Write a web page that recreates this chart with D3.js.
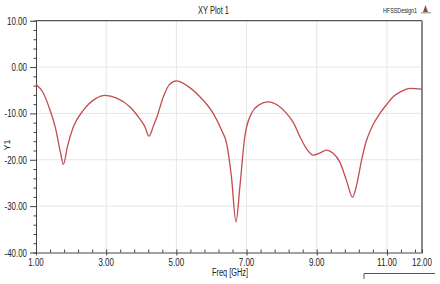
<!DOCTYPE html>
<html>
<head>
<meta charset="utf-8">
<script src="https://cdn.jsdelivr.net/npm/d3@7"></script>
<style>
  body { margin: 0; background: #fff; }
  svg text { font-family: "Liberation Sans", Arial, sans-serif; fill: #222; }
</style>
</head>
<body>
<div class="chartContainer"></div>
<script>
// S-parameter curve
var freq = [1.0, 1.2, 1.4, 1.55, 1.7, 1.78, 1.9, 2.06, 2.35, 2.7, 2.97, 3.3, 3.68, 3.96, 4.1, 4.22,
            4.35, 4.44, 4.63, 4.8, 5.0, 5.3, 5.67, 6.05, 6.3, 6.43, 6.57, 6.70, 6.81, 6.95, 7.14, 7.35,
            7.62, 7.9, 8.14, 8.35, 8.52, 8.7, 8.9, 9.1, 9.28, 9.45, 9.66, 9.85, 10.02, 10.15,
            10.28, 10.42, 10.6, 10.8, 11.0, 11.18, 11.4, 11.66, 12.0];
var db = [-3.7, -5.5, -9.3, -13, -18.5, -21, -17, -13, -9.3, -6.8, -6.1, -6.7, -8.6, -11.2, -12.8, -14.9,
          -12.6, -10.9, -6.4, -3.8, -3.0, -4, -6.4, -10, -13.8, -16.4, -23.7, -33.4, -25.8, -15, -10, -8.2,
          -7.5, -8.3, -10, -12.2, -15, -17.5, -19, -18.5, -17.9, -18.5, -20.5, -24.5, -28.1, -25,
          -20, -15.8, -12.5, -10, -8, -6.4, -5.3, -4.6, -4.75];
var xTicks = [1, 3, 5, 7, 9, 11, 12];
var yTicks = [10, 0, -10, -20, -30, -40];
var gridX = [3, 5, 7, 9, 11];
var gridY = [0, -10, -20, -30];

var width = 440, height = 284;
var plotL = 36, plotR = 422, plotT = 20.7, plotB = 252.5;

var svg = d3.select('.chartContainer').append('svg')
    .attr('width', width).attr('height', height);

var x = d3.scaleLinear().domain([1, 12]).range([plotL, plotR]);
var y = d3.scaleLinear().domain([-40, 10]).range([plotB, plotT]);

// narrow, tall numerals like the original
function labelWidth(s) {
    var w = 0;
    for (var c of s) w += (c === '.') ? 2 : (c === '-') ? 2.5 : 4.5;
    return w;
}

// grid
svg.selectAll('.gx').data(gridX).enter().append('line')
    .attr('x1', d => x(d)).attr('x2', d => x(d))
    .attr('y1', plotT).attr('y2', plotB)
    .attr('stroke', '#e6e6e6').attr('stroke-width', 1);
svg.selectAll('.gy').data(gridY).enter().append('line')
    .attr('x1', plotL).attr('x2', plotR)
    .attr('y1', d => y(d)).attr('y2', d => y(d))
    .attr('stroke', '#e6e6e6').attr('stroke-width', 1);

// frame
svg.append('line').attr('x1', plotL).attr('x2', plotR).attr('y1', plotT).attr('y2', plotT)
    .attr('stroke', '#555').attr('stroke-width', 1.2);
svg.append('line').attr('x1', plotR).attr('x2', plotR).attr('y1', plotT).attr('y2', plotB)
    .attr('stroke', '#8a8a8a').attr('stroke-width', 2);

// y axis
var yAxis = svg.append('g').attr('transform', 'translate(' + plotL + ',0)');
yAxis.call(d3.axisLeft(y).tickValues(d3.range(-40, 10.1, 2)).tickSize(2.5).tickFormat(''));
yAxis.selectAll('.tick line').filter(d => Math.abs(d % 10) < 0.01).attr('x2', -6);
yAxis.select('.domain').attr('stroke', '#444');
yAxis.selectAll('line').attr('stroke', '#444');
svg.selectAll('.ylab').data(yTicks).enter().append('text')
    .attr('x', 27).attr('y', d => y(d) + 4)
    .attr('text-anchor', 'end').attr('font-size', 11)
    .attr('textLength', d => labelWidth(d.toFixed(2))).attr('lengthAdjust', 'spacingAndGlyphs')
    .text(d => d.toFixed(2));

// x axis: minor ticks inside, majors poke out
var xAxis = svg.append('g').attr('transform', 'translate(0,' + plotB + ')');
xAxis.call(d3.axisBottom(x).tickValues(d3.range(1, 12.01, 0.4)).tickSize(-3).tickFormat(''));
xAxis.selectAll('.tick line').filter(d => Math.abs((d - 1) % 2) < 0.01).attr('y1', 3);
xAxis.select('.domain').attr('stroke', '#444');
xAxis.selectAll('line').attr('stroke', '#444');
svg.selectAll('.xlab').data(xTicks).enter().append('text')
    .attr('x', d => x(d)).attr('y', 266)
    .attr('text-anchor', 'middle').attr('font-size', 11)
    .attr('textLength', d => labelWidth(d.toFixed(2))).attr('lengthAdjust', 'spacingAndGlyphs')
    .text(d => d.toFixed(2));

// curve
var pts = freq.map((f, i) => [f, db[i]]);
svg.append('path').datum(pts)
    .attr('fill', 'none').attr('stroke', '#c44c4c').attr('stroke-width', 1.3)
    .attr('d', d3.line().x(d => x(d[0])).y(d => y(d[1])).curve(d3.curveMonotoneX));

// titles
svg.append('text').attr('x', 213.5).attr('y', 13.5).attr('text-anchor', 'middle')
    .attr('font-size', 10).attr('textLength', 31).attr('lengthAdjust', 'spacingAndGlyphs')
    .text('XY Plot 1');
svg.append('text').attr('x', 383).attr('y', 13)
    .attr('font-size', 7).attr('textLength', 34).attr('lengthAdjust', 'spacingAndGlyphs')
    .text('HFSSDesign1');
svg.append('path').attr('d', 'M423,12 L425.5,5 L428,12 Z').attr('fill', '#a0443a');
svg.append('line').attr('x1', 421).attr('x2', 431).attr('y1', 12.8).attr('y2', 12.8)
    .attr('stroke', '#888');
svg.append('text').attr('x', 230).attr('y', 276).attr('text-anchor', 'middle')
    .attr('font-size', 10).attr('textLength', 36).attr('lengthAdjust', 'spacingAndGlyphs')
    .text('Freq [GHz]');
svg.append('text').attr('transform', 'translate(10,145) rotate(-90)')
    .attr('text-anchor', 'middle').attr('font-size', 9).attr('fill', '#444').text('Y1');

// legend fragment at bottom right
svg.append('path').attr('d', 'M364,279 L364,273.5 L435,273.5')
    .attr('fill', 'none').attr('stroke', '#555').attr('stroke-width', 1);
</script>
</body>
</html>
